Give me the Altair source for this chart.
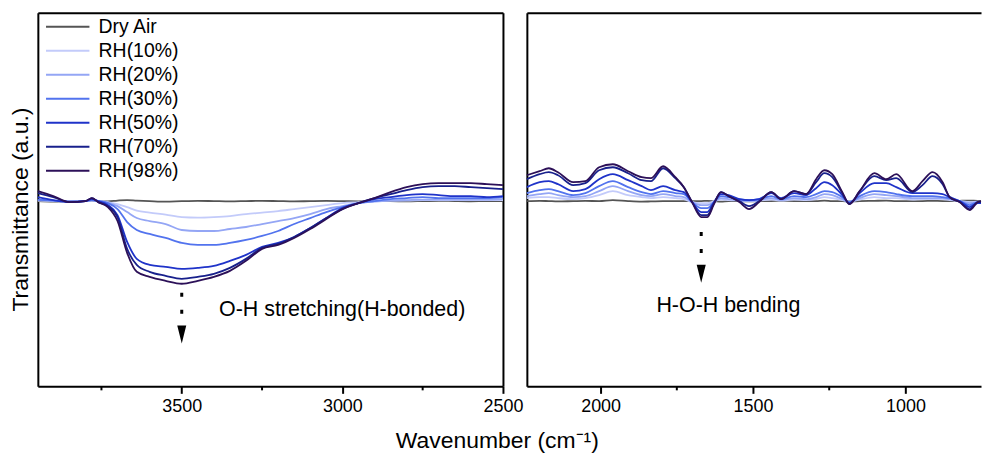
import altair as alt
import pandas as pd

series = ["Dry Air", "RH(10%)", "RH(20%)", "RH(30%)", "RH(50%)", "RH(70%)", "RH(98%)"]
colors = ["#555555", "#c3cbfa", "#94a6f5", "#5273ee", "#1f33c9", "#18208c", "#2c1058"]

# ---- left panel (O-H stretching region) ----
left_wn = [3948, 3900, 3850, 3800, 3780, 3760, 3730, 3700, 3670, 3640, 3600, 3550, 3500,
           3450, 3400, 3350, 3300, 3250, 3200, 3150, 3100, 3050, 3000, 2950, 2900, 2850,
           2800, 2750, 2700, 2650, 2600, 2550, 2500]
dry_L = [0, -0.5, 0, 0.3, 0.5, 0, -0.3, 0.5, 1, 0.5, 0, -0.5, 0, 0.3, 0, -0.3, 0, 0.3, 0,
         -0.3, 0, 0.2, 0, -0.3, 0, 0, -0.3, 0, 0.3, 0, -0.2, 0, 0]
rh10_L = [0.5, 0, -0.3, 0, 0.5, 0, -1, -3, -6, -9.5, -11.5, -13.5, -16, -16.5, -16, -15, -13,
          -11.5, -10, -8, -6, -4, -2, -1, 0, 0.5, 0.5, 1, 1, 1, 1, 1, 1]
rh20_L = [1, 0.5, 0, 0, 0.8, 0.2, -1.5, -5, -11, -17, -20, -23, -29, -30, -30, -28, -26, -23,
          -20, -17, -13, -8, -5, -2, -0.5, 0.5, 1, 1.5, 1.5, 1.5, 1.5, 1.5, 2]
rh30_L = [1.5, 0.5, -0.5, 0, 1, 0, -2, -8, -21, -29, -33, -37, -42, -44, -44, -42, -39, -35,
          -30, -23, -17, -11, -6, -2, 0, 2, 3, 4, 3, 3, 3, 3, 4]
rh50_L = [4, 1, -1, 0, 2, 0, -4, -14, -41, -58, -64, -66, -68, -67, -65, -60, -54, -46, -42,
          -36, -27, -17, -7, -2, 2, 4, 6, 7, 6, 5, 5, 4, 5]
rh70_L = [8, 4, -1, 0, 3, -1, -5, -16, -48, -64, -71, -75, -78, -76, -73, -67, -58, -47, -43,
          -36, -27, -17, -8, -2, 3, 7, 11, 14, 15, 15, 14, 13, 12]
rh98_L = [10, 5, -1, 0, 3, -1, -6, -20, -52, -71, -76, -80, -83, -80, -76, -70, -60, -48, -44,
          -37, -28, -18, -8, -2, 3, 9, 14, 17, 18, 18, 18, 17, 16]

# ---- right panel (fingerprint region) ----
right_wn = [2242, 2200, 2170, 2140, 2090, 2050, 2005, 1960, 1910, 1865, 1835, 1795, 1755, 1727,
            1700, 1670, 1650, 1628, 1605, 1580, 1545, 1513, 1480, 1440, 1408, 1365, 1326, 1293,
            1266, 1240, 1207, 1184, 1150, 1102, 1063, 1030, 977, 944, 911, 878, 855, 822, 789,
            763, 752]
dry_R = [0, 0.3, 0, -0.3, 0, 0.2, 0, 1, 0, -0.5, -0.3, 0, 0, 0, 0, 0, 0.3, 0, -0.5, 0, 0, -0.3,
         0, 0, 0.3, 0, 0, 0, 0.5, 0, 0, -0.3, 0, 0.3, 0.5, 0, 0, 0, 0.3, 0, 0, 0.3, 0.5, 0.3, 0.3]
rh10_R = [3, 4, 4, 3, 2, 3, 6, 10, 6, 4, 3, 4, 3, 2, -1, -2, -2, 0, 1.5, 1, 0.5, 0, 0.5, 1.5,
          0.5, 1.5, 1, 2, 4, 3, 1, -0.5, 1.5, 4, 3, 3, 1.5, 2, 2, 2, 1, 0, -1, -0.5, -0.5]
rh20_R = [5, 7, 8, 6, 4, 5, 10, 15, 10, 6, 5, 7, 5, 4, -1, -4, -4, -1, 3, 2, 1, 0, 1, 3, 1, 3,
          2, 4, 7, 6, 2, -1, 3, 7, 6, 5, 3, 3, 3, 3, 2, 0, -2, -1, -1]
rh30_R = [8, 11, 12, 10, 6, 8, 15, 20, 14, 9, 7, 10, 8, 7, -1, -7, -7, -1, 5, 4, 2, 1, 2, 5, 2,
          5, 4, 7, 10, 9, 4, -1, 5, 10, 9, 7, 5, 5, 5, 4, 3, 0, -4, -1, -1]
rh50_R = [14, 19, 20, 17, 10, 12, 22, 27, 21, 15, 11, 15, 11, 9, -1, -11, -11, -1, 7, 6, 2, 1,
          2, 8, 3, 8, 6, 13, 19, 16, 6, -2, 8, 18, 18, 14, 8, 8, 8, 7, 4, 0, -6, -2, -2]
rh70_R = [22, 27, 29, 26, 16, 18, 31, 34, 28, 21, 20, 33, 23, 14, -1, -14, -14, -2, 9, 5, 0, -5,
          0, 9, 2, 10, 7, 19, 28, 24, 8, -3, 10, 25, 21, 23, 9, 16, 25, 17, 4, -1, -8, -1, -1]
rh98_R = [26, 30, 33, 29, 19, 20, 34, 37, 30, 24, 23, 35, 24, 14, -1, -16, -16, -3, 9, 5, -1, -8,
          -1, 9, 2, 10, 7, 22, 31, 27, 9, -3, 10, 28, 22, 27, 10, 20, 29, 19, 4, -1, -9, -1, 0]

left_major = [3500, 3000, 2500]
left_minor = [3750, 3250, 2750]
right_major = [2000, 1500, 1000]
right_minor = [1750, 1250]

# annotations
oh_label = "O-H stretching(H-bonded)"
hoh_label = "H-O-H bending"
oh_arrow_x, oh_dot_top, oh_dot_bot, oh_head_y = 3500, -92, -122, -134
oh_text_x, oh_text_y = 3384, -109
hoh_arrow_x, hoh_dot_top, hoh_dot_bot, hoh_head_y = 1670, -31, -57, -73
hoh_text_x, hoh_text_y = 1817, -105

Y_DOMAIN = [-186, 189]
H = 375
FONT = "Liberation Sans"


def long_df(wn, table):
    rows = []
    for name, vals in zip(series, table):
        for w, v in zip(wn, vals):
            rows.append({"wn": w, "t": v, "series": name})
    return pd.DataFrame(rows)


left_df = long_df(left_wn, [dry_L, rh10_L, rh20_L, rh30_L, rh50_L, rh70_L, rh98_L])
right_df = long_df(right_wn, [dry_R, rh10_R, rh20_R, rh30_R, rh50_R, rh70_R, rh98_R])

tri_shape = "M-0.5,-1 L0.5,-1 L0,1 Z"

frame_axis = dict(labels=False, ticks=False, domain=True, grid=False, title=None,
                  domainColor="black", domainWidth=2)


def panel(df, xdom, major, minor, width, arrow, text, is_left):
    xs = alt.Scale(domain=xdom, reverse=True, nice=False, zero=False)
    ys = alt.Scale(domain=Y_DOMAIN, nice=False, zero=False)
    xax = alt.Axis(values=major, title=None, grid=False, format="d", labelFlush=False)
    yax = alt.Axis(orient="left", labels=False, ticks=False, domain=True, grid=False,
                   domainColor="black", domainWidth=2,
                   title="Transmittance (a.u.)" if is_left else None,
                   titleFontSize=23, titleFont=FONT, titleFontWeight="normal",
                   titlePadding=5, titleColor="black", titleY=197)
    if is_left:
        leg = alt.Legend(title=None, orient="none", legendX=7, legendY=2,
                         symbolType="stroke", symbolSize=1900, symbolStrokeWidth=2,
                         labelFontSize=19.5, labelFont=FONT, labelColor="black",
                         labelOffset=8, rowPadding=0.1, clipHeight=24, padding=0)
    else:
        leg = None
    lines = alt.Chart(df).mark_line(strokeWidth=1.8, interpolate="monotone").encode(
        x=alt.X("wn:Q", scale=xs, axis=xax),
        y=alt.Y("t:Q", scale=ys, axis=yax),
        color=alt.Color("series:N", scale=alt.Scale(domain=series, range=colors),
                        legend=leg, sort=series),
    )
    # minor ticks; this layer also carries the top frame line
    ticks = alt.Chart(pd.DataFrame({"wn": minor})).mark_rule(
        color="black", strokeWidth=2).encode(
        x=alt.X("wn:Q", scale=xs, axis=alt.Axis(orient="top", **frame_axis)),
        y=alt.value(H), y2=alt.value(H + 4))
    ax, dtop, dbot, hy, tx, ty, label = arrow + text
    right_axis = alt.Axis(orient="right", **frame_axis) if is_left else None
    dots = alt.Chart(pd.DataFrame({"wn": [ax], "a": [dtop], "b": [dbot]})).mark_rule(
        color="black", strokeWidth=3, strokeDash=[4, 13]).encode(
        x=alt.X("wn:Q", scale=xs, axis=None), y=alt.Y("a:Q", scale=ys, axis=right_axis),
        y2="b:Q")
    head = alt.Chart(pd.DataFrame({"wn": [ax], "y": [hy]})).mark_point(
        shape=tri_shape, filled=True, color="black", size=330, opacity=1).encode(
        x=alt.X("wn:Q", scale=xs, axis=None), y=alt.Y("y:Q", scale=ys, axis=None))
    txt = alt.Chart(pd.DataFrame({"wn": [tx], "y": [ty], "s": [label]})).mark_text(
        align="left", baseline="middle", fontSize=21.5, font=FONT, color="black").encode(
        x=alt.X("wn:Q", scale=xs, axis=None), y=alt.Y("y:Q", scale=ys, axis=None), text="s:N")
    return alt.layer(lines, ticks, dots, head, txt).resolve_axis(
        x="independent", y="independent").properties(width=width, height=H)


left = panel(left_df, [2500, 3948], left_major, left_minor, 467,
             (oh_arrow_x, oh_dot_top, oh_dot_bot, oh_head_y), (oh_text_x, oh_text_y, oh_label),
             True)
right = panel(right_df, [752, 2242], right_major, right_minor, 456,
              (hoh_arrow_x, hoh_dot_top, hoh_dot_bot, hoh_head_y),
              (hoh_text_x, hoh_text_y, hoh_label), False)

chart = alt.hconcat(
    left, right, spacing=24, bounds="flush",
    title=alt.TitleParams(text="Wavenumber (cm⁻¹)", orient="bottom", anchor="middle",
                          fontSize=23, font=FONT, fontWeight="normal", color="black", offset=15),
).resolve_scale(color="independent").resolve_legend(color="independent").configure_view(
    strokeWidth=0
).configure_axis(
    labelFont=FONT, labelFontSize=18, labelColor="black", tickColor="black", tickWidth=2,
    tickSize=7, domainColor="black", domainWidth=2, labelPadding=4, grid=False
).properties(
    padding={"left": 10, "top": 12, "right": 0, "bottom": 0}, background="white"
)

chart.save("out.html", embed_options={"renderer": "svg", "actions": False})
